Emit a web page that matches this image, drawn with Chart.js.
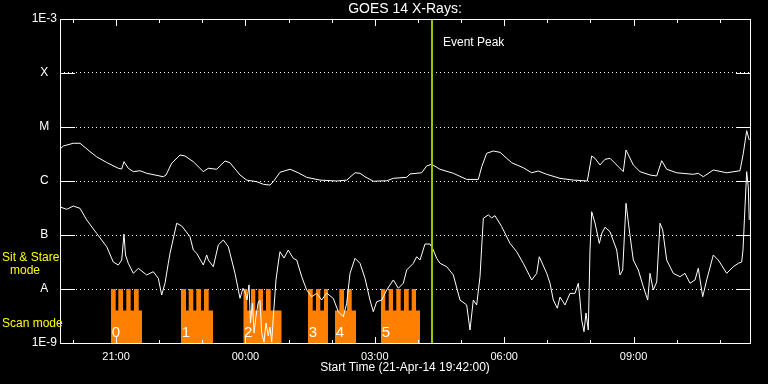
<!DOCTYPE html>
<html><head><meta charset="utf-8">
<script src="https://cdn.jsdelivr.net/npm/chart.js@4.4.1/dist/chart.umd.min.js"></script>
<style>html,body{margin:0;padding:0;background:#000;overflow:hidden}#wrap{width:768px;height:384px}</style>
</head><body><div id="wrap"><canvas id="c" width="768" height="384"></canvas></div>
<script>
// ---- data (time in hours after 00:00 21-Apr-14; flux in W/m^2) ----
const chartTitle = 'GOES 14 X-Rays:';
const xTitle = 'Start Time (21-Apr-14 19:42:00)';
const timeStart = 19.7, timeEnd = 35.7;
const xTickHours = [21, 24, 27, 30, 33];
const xTickLabels = ['21:00', '00:00', '03:00', '06:00', '09:00'];
const xMinorHours = [20, 21, 22, 23, 24, 25, 26, 27, 28, 29, 30, 31, 32, 33, 34, 35];
const yTickValues = [1e-9, 1e-8, 1e-7, 1e-6, 1e-5, 1e-4, 1e-3];
const yTickLabels = ['1E-9', 'A', 'B', 'C', 'M', 'X', '1E-3'];
const eventPeak = 28.326;
const eventLabel = 'Event Peak';

const longTimes = [19.700,19.777,20.008,20.164,20.396,20.551,20.783,21.052,21.131,21.184,21.284,21.400,21.555,21.710,22.095,22.158,22.290,22.483,22.599,22.791,23.023,23.139,23.334,23.526,23.642,23.874,24.029,24.261,24.414,24.570,24.646,24.801,25.033,25.226,25.420,25.729,26.116,26.348,26.541,26.657,26.772,26.965,27.276,27.429,27.739,27.816,28.087,28.203,28.319,28.512,28.820,29.131,29.400,29.479,29.594,29.748,29.903,30.174,30.443,30.638,30.791,30.986,31.294,31.603,31.927,32.029,32.106,32.222,32.338,32.454,32.762,32.825,32.994,33.149,33.381,33.537,33.652,33.768,34.000,34.385,34.501,34.617,34.849,35.159,35.468,35.545,35.623,35.683];
const longFlux = [3.9e-6,4.45e-6,5.0e-6,5.0e-6,3.5e-6,2.8e-6,2.2e-6,1.72e-6,1.67e-6,2.28e-6,1.72e-6,1.49e-6,1.55e-6,1.39e-6,1.20e-6,1.29e-6,2.13e-6,3.03e-6,2.90e-6,2.28e-6,1.49e-6,1.72e-6,1.65e-6,2.35e-6,2.18e-6,1.29e-6,1.04e-6,0.97e-6,0.87e-6,0.84e-6,0.97e-6,1.45e-6,1.65e-6,1.42e-6,1.17e-6,1.04e-6,1.0e-6,1.04e-6,1.42e-6,1.39e-6,1.20e-6,0.99e-6,1.01e-6,1.12e-6,1.17e-6,1.35e-6,1.42e-6,1.90e-6,2.04e-6,1.65e-6,1.39e-6,1.07e-6,1.07e-6,1.84e-6,3.26e-6,3.59e-6,3.40e-6,2.18e-6,1.76e-6,1.42e-6,1.53e-6,1.33e-6,1.12e-6,1.04e-6,1.0e-6,2.90e-6,2.63e-6,1.98e-6,2.52e-6,2.63e-6,1.49e-6,3.75e-6,1.98e-6,1.49e-6,1.29e-6,1.24e-6,2.38e-6,1.65e-6,1.42e-6,1.33e-6,1.39e-6,1.20e-6,1.60e-6,1.42e-6,1.55e-6,3.26e-6,8.54e-6,5.74e-6];

const shortTimes = [19.723,19.855,20.008,20.164,20.319,20.551,20.783,20.936,21.052,21.131,21.184,21.219,21.284,21.400,21.516,21.710,21.863,21.979,22.058,22.135,22.211,22.251,22.406,22.522,22.714,22.791,22.870,23.023,23.102,23.139,23.255,23.371,23.487,23.603,23.642,23.758,23.874,23.943,23.990,24.036,24.083,24.117,24.164,24.199,24.245,24.298,24.338,24.377,24.430,24.477,24.530,24.570,24.609,24.646,24.709,24.755,24.801,24.894,24.994,25.033,25.110,25.189,25.305,25.420,25.537,25.653,25.768,25.884,26.037,26.153,26.269,26.348,26.425,26.541,26.657,26.772,26.888,26.965,27.044,27.160,27.276,27.429,27.545,27.661,27.739,27.893,27.971,28.048,28.164,28.280,28.356,28.435,28.512,28.667,28.820,28.975,29.131,29.207,29.284,29.362,29.439,29.516,29.632,29.710,29.787,29.942,30.135,30.290,30.443,30.638,30.754,30.814,30.986,31.062,31.139,31.232,31.294,31.410,31.526,31.642,31.719,31.758,31.797,31.851,31.897,31.950,31.990,32.029,32.106,32.206,32.268,32.338,32.454,32.609,32.686,32.748,32.825,32.901,32.994,33.110,33.226,33.328,33.381,33.457,33.537,33.613,33.675,33.768,33.921,34.077,34.193,34.309,34.425,34.501,34.603,34.696,34.849,34.965,35.159,35.313,35.429,35.507,35.538,35.584,35.623,35.660,35.683];
const shortFlux = [3.26e-7,2.99e-7,3.44e-7,3.12e-7,1.90e-7,1.07e-7,6.07e-8,3.16e-8,2.78e-8,3.44e-8,1.04e-7,4.26e-8,2.99e-8,1.95e-8,2.42e-8,1.82e-8,2.09e-8,1.58e-8,7.74e-9,1.28e-8,2.99e-8,4.58e-8,1.65e-7,1.47e-7,9.3e-8,5.27e-8,4.58e-8,2.78e-8,4.26e-8,3.44e-8,2.59e-8,6.53e-8,8.08e-8,6.07e-8,4.58e-8,1.95e-8,6.73e-9,1.03e-8,8.8e-9,6.25e-9,1.19e-8,2.35e-9,5.5e-9,1.53e-9,3.16e-9,5.74e-9,6.25e-9,1.53e-9,1.04e-9,2.35e-9,1.35e-9,1.98e-9,1.04e-9,3.03e-9,1.47e-8,2.78e-8,4.9e-8,3.75e-8,5.27e-8,4.64e-8,3.7e-8,3.44e-8,1.69e-8,9.6e-9,7.2e-9,8.3e-9,6.25e-9,8.4e-9,6.7e-9,3.8e-9,3.07e-9,5.43e-9,1.95e-8,3.7e-8,2.99e-8,1.58e-8,6.25e-9,3.8e-9,5.82e-9,6.25e-9,9.6e-9,1.47e-8,1.03e-8,1.28e-8,2.25e-8,2.99e-8,3.96e-8,3.44e-8,6.8e-8,6.8e-8,5.27e-8,3.7e-8,2.99e-8,2.59e-8,1.82e-8,6.25e-9,5.06e-9,1.74e-9,6.25e-9,5.06e-9,1.69e-8,2.04e-7,2.35e-7,2.07e-7,2.28e-7,1.43e-7,7.0e-8,4.9e-8,2.99e-8,1.47e-8,1.95e-8,3.96e-8,1.95e-8,1.28e-8,6.25e-9,4.4e-9,7.1e-9,5.06e-9,8.3e-9,8.3e-9,1.28e-8,6.25e-9,2.67e-9,1.62e-9,3.6e-9,1.74e-9,5.27e-8,2.7e-7,1.67e-7,7.0e-8,1.09e-7,1.39e-7,1.15e-7,5.27e-8,1.82e-8,2.25e-8,3.86e-7,1.24e-7,3.44e-8,2.25e-8,1.10e-8,6.25e-9,1.95e-8,9.6e-9,1.35e-8,1.65e-7,1.24e-7,3.44e-8,1.95e-8,1.69e-8,1.95e-8,1.28e-8,1.47e-8,2.42e-8,7.2e-9,1.47e-8,4.26e-8,3.44e-8,1.95e-8,2.59e-8,2.99e-8,3.16e-8,5.27e-8,3.34e-7,1.49e-6,7.8e-7,1.90e-7];

// scan-mode blocks: step edges (hours) and level held from each edge
const SIT = 1e-8, SCAN = 4e-9;
const scanEdges = [
  [20.883,20.992,21.052,21.161,21.237,21.339,21.416,21.525,21.601],
  [22.506,22.622,22.684,22.791,22.861,22.970,23.039,23.148,23.248],
  [23.950,24.043,24.129,24.229,24.298,24.407,24.477,24.586,24.841],
  [25.451,25.560,25.636,25.736,25.822,25.914],
  [26.077,26.177,26.286,26.355,26.464,26.564],
  [27.143,27.243,27.322,27.422,27.498,27.600,27.677,27.786,27.855,27.955,28.048]
];
const scanLevels = [
  [SIT,SCAN,SIT,SCAN,SIT,SCAN,SIT,SCAN,SCAN],
  [SIT,SCAN,SIT,SCAN,SIT,SCAN,SIT,SCAN,SCAN],
  [SIT,SCAN,SIT,SCAN,SIT,SCAN,SIT,SCAN,SCAN],
  [SIT,SCAN,SIT,SCAN,SIT,SIT],
  [SCAN,SIT,SCAN,SIT,SCAN,SCAN],
  [SIT,SCAN,SIT,SCAN,SIT,SCAN,SIT,SCAN,SIT,SCAN,SCAN]
];
const scanLabels = ['0', '1', '2', '3', '4', '5'];

// ---- build ----
const FONT = 'Liberation Sans';
const pts = (t, v) => t.map((x, i) => ({x: x, y: v[i]}));
const scanData = [];
scanEdges.forEach((g, gi) => {
  g.forEach((t, i) => scanData.push({x: t, y: scanLevels[gi][i]}));
  scanData.push({x: g[g.length - 1] + 0.001, y: null});
});

const bgPlugin = {
  id: 'bg',
  beforeDraw(chart) {
    const c = chart.ctx; c.save(); c.fillStyle = '#000'; c.fillRect(0, 0, chart.width, chart.height); c.restore();
  }
};
const framePlugin = {
  id: 'frame',
  afterDatasetsDraw(chart) {
    const c = chart.ctx, a = chart.chartArea, xs = chart.scales.x, ys = chart.scales.y;
    c.save();
    c.strokeStyle = '#fff'; c.lineWidth = 1;
    const line = (x1, y1, x2, y2) => { c.beginPath(); c.moveTo(x1, y1); c.lineTo(x2, y2); c.stroke(); };
    c.strokeRect(a.left + 0.5, a.top + 0.5, a.right - a.left, a.bottom - a.top);
    yTickValues.forEach(v => {
      const py = Math.round(ys.getPixelForValue(v)) + 0.5;
      line(a.left, py, a.left + 15, py);
      line(a.right - 14, py, a.right, py);
    });
    xMinorHours.forEach(h => {
      const px = Math.round(xs.getPixelForValue(h)) + 0.5;
      const len = xTickHours.includes(h) ? 7 : 4;
      line(px, a.top, px, a.top + len);
      line(px, a.bottom + 1, px, a.bottom + 1 - len);
    });
    // annotation texts
    c.fillStyle = '#fff'; c.font = '12px "' + FONT + '"'; c.textBaseline = 'middle'; c.textAlign = 'left';
    c.fillText(eventLabel, xs.getPixelForValue(eventPeak) + 11, 43);
    c.fillStyle = '#ffff00';
    c.fillText('Sit & Stare', 2, 258);
    c.fillText('Scan mode', 2, 324);
    c.textAlign = 'center';
    c.fillText('mode', 25, 271);
    c.fillStyle = '#fff'; c.font = '15px "' + FONT + '"';
    scanEdges.forEach((g, i) => c.fillText(scanLabels[i], xs.getPixelForValue(g[0]) + 5, 333));
    c.restore();
  }
};

new Chart(document.getElementById('c').getContext('2d'), {
  type: 'line',
  data: {
    datasets: [
      {label: eventLabel, data: [{x: eventPeak, y: 1e-9}, {x: eventPeak, y: 1e-3}], borderColor: '#96c800', borderWidth: 2, pointRadius: 0},
      {label: '1.0-8.0 A', data: pts(longTimes, longFlux), borderColor: '#ffffff', borderWidth: 1, pointRadius: 0, tension: 0},
      {label: '0.5-4.0 A', data: pts(shortTimes, shortFlux), borderColor: '#ffffff', borderWidth: 1, pointRadius: 0, tension: 0},
      {label: 'Scan mode', data: scanData, stepped: 'before', fill: 'start', backgroundColor: '#ff8000', borderColor: '#ff8000', borderWidth: 0, pointRadius: 0, spanGaps: false}
    ]
  },
  options: {
    responsive: false, animation: false, devicePixelRatio: 1,
    layout: {padding: {left: 0, right: 18, top: 0, bottom: 0}},
    plugins: {
      legend: {display: false}, tooltip: {enabled: false},
      title: {display: true, fullSize: false, text: chartTitle, color: '#fff', font: {family: FONT, size: 14, weight: 'normal'}, padding: {top: 1, bottom: 1.2}}
    },
    scales: {
      x: {
        type: 'linear', min: timeStart, max: timeEnd,
        grid: {display: false, drawTicks: false}, border: {display: false},
        afterBuildTicks: s => { s.ticks = xTickHours.map(v => ({value: v})); },
        afterFit: s => { s.height = 41; },
        ticks: {color: '#fff', font: {family: FONT, size: 11}, padding: 7, maxRotation: 0, autoSkip: false,
          callback: (v, i) => xTickLabels[i]},
        title: {display: true, text: xTitle, color: '#fff', font: {family: FONT, size: 12}, padding: {top: 0, bottom: 9}}
      },
      y: {
        type: 'logarithmic', min: 1e-9, max: 1e-3,
        afterBuildTicks: s => { s.ticks = yTickValues.map(v => ({value: v})); },
        afterFit: s => { s.width = 60; },
        grid: {color: '#ffffff', lineWidth: 1, drawTicks: false},
        border: {display: false, dash: [1, 3]},
        ticks: {color: '#fff', font: {family: FONT, size: 12}, padding: 3, crossAlign: 'center',
          callback: (v, i) => yTickLabels[i]}
      }
    }
  },
  plugins: [bgPlugin, framePlugin]
});
</script></body></html>
